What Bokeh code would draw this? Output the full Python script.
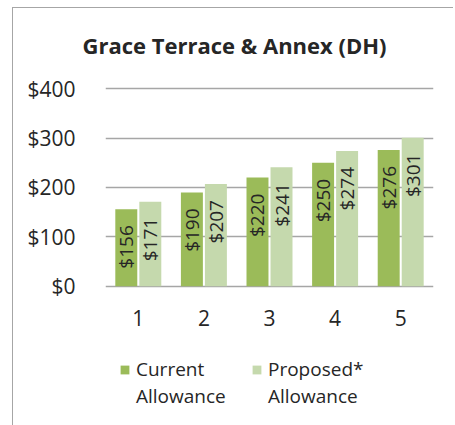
from bokeh.plotting import figure
from bokeh.models import (FactorRange, Range1d, FixedTicker, NumeralTickFormatter,
                          ColumnDataSource, Legend, LegendItem, Title)
from bokeh.transform import dodge
from bokeh.core.properties import value
from bokeh.embed import file_html
from bokeh.resources import INLINE

categories = ["1", "2", "3", "4", "5"]
current = [156, 190, 220, 250, 276]
proposed = [171, 207, 241, 274, 301]
series_line1 = ["Current", "Proposed*"]
series_line2 = ["Allowance", "Allowance"]
y_ticks = [0, 100, 200, 300, 400]
title_text = "Grace Terrace & Annex (DH)"

FONT = "Open Sans"
C1 = "#9BBB59"
C2 = "#C5D9AD"
TXT = "#262626"

src = ColumnDataSource(dict(
    cat=categories, cur=current, pro=proposed,
    zero=[0] * len(categories),
    cur_lbl=["$%d" % v for v in current],
    pro_lbl=["$%d" % v for v in proposed],
))

# frame extends below the $0 line so the category labels and legend sit inside it
p = figure(frame_width=328, frame_height=366,
           x_range=FactorRange(*categories, range_padding=0),
           y_range=Range1d(-282.3, 459.3), x_axis_location=None,
           output_backend="svg", toolbar_location=None,
           min_border_left=92, min_border_right=20, min_border_top=51, min_border_bottom=0)
p.styles = {"margin-left": "12px", "margin-top": "7px",
            "border-left": "1px solid #A6A6A6", "border-top": "1px solid #A6A6A6"}
p.outline_line_color = None
p.background_fill_color = "white"
p.border_fill_color = "white"

p.title = Title(text=title_text, align="left", offset=-23, standoff=0,
                text_font=FONT, text_font_size="22px", text_font_style="bold",
                text_color=TXT)

w = 0.335
off = 0.183
r1 = p.vbar(x=dodge("cat", -off, range=p.x_range), top="cur", width=w, source=src,
            fill_color=C1, line_color=None)
r2 = p.vbar(x=dodge("cat", off, range=p.x_range), top="pro", width=w, source=src,
            fill_color=C2, line_color=None)

for xcol, ycol, lcol in ((-off, "cur", "cur_lbl"), (off, "pro", "pro_lbl")):
    p.text(x=dodge("cat", xcol, range=p.x_range), y=ycol, text=lcol, source=src,
           angle=1.5708, text_align="right", text_baseline="middle",
           y_offset=16, text_font=value(FONT), text_font_size="19px", text_color=TXT)

# category (x tick) labels under the $0 line
p.text(x="cat", y="zero", text="cat", source=src, text_align="center",
       text_baseline="middle", y_offset=32, text_font=value(FONT),
       text_font_size="21px", text_color=TXT)

p.xgrid.grid_line_color = None
p.ygrid.grid_line_color = "#A6A6A6"
p.ygrid.grid_line_width = 1.3

p.yaxis.ticker = FixedTicker(ticks=y_ticks)
p.yaxis.formatter = NumeralTickFormatter(format="$0")
p.yaxis.axis_line_color = None
p.yaxis.major_tick_line_color = None
p.yaxis.minor_tick_line_color = None
p.yaxis.major_label_text_font = FONT
p.yaxis.major_label_text_font_size = "21px"
p.yaxis.major_label_text_color = TXT
p.yaxis.major_label_standoff = 24

# invisible stand-ins for the second line of the legend labels
empty = ColumnDataSource(dict(x=[], top=[]))
g1 = p.vbar(x="x", top="top", width=w, source=empty, fill_alpha=0, line_alpha=0)
g2 = p.vbar(x="x", top="top", width=w, source=empty, fill_alpha=0, line_alpha=0)

common = dict(orientation="horizontal", label_width=115, spacing=0,
              glyph_width=11, glyph_height=11, label_standoff=6,
              label_text_font=FONT, label_text_font_size="19px", label_text_color=TXT,
              border_line_color=None, background_fill_alpha=0, padding=0, margin=0)
legend1 = Legend(items=[LegendItem(label=series_line1[0], renderers=[r1]),
                        LegendItem(label=series_line1[1], renderers=[r2])],
                 location=(14, 43), **common)
legend2 = Legend(items=[LegendItem(label=series_line2[0], renderers=[g1]),
                        LegendItem(label=series_line2[1], renderers=[g2])],
                 location=(14, 16), **common)
p.add_layout(legend1, "center")
p.add_layout(legend2, "center")

open("out.html", "w").write(file_html(p, INLINE))
